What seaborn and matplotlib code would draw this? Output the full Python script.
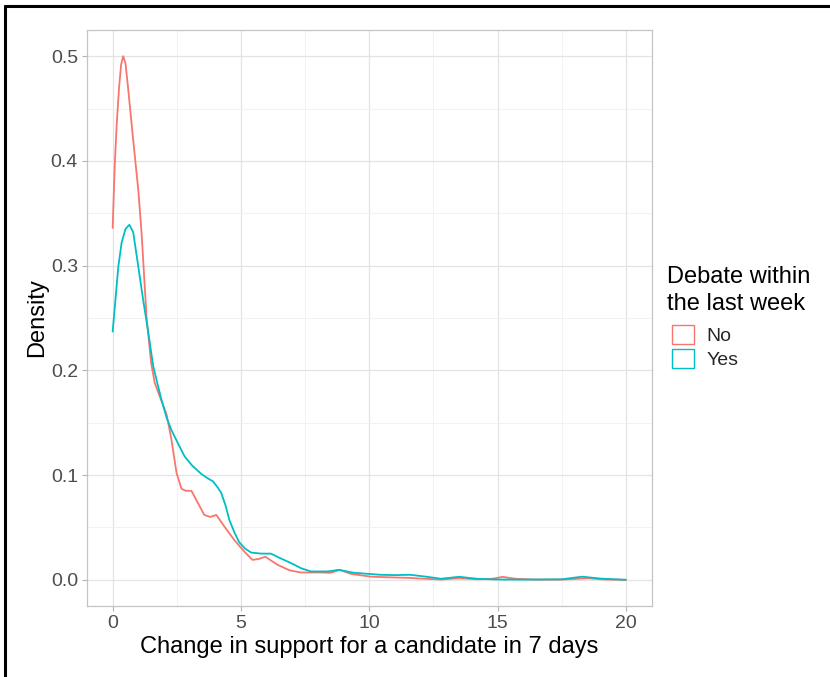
import numpy as np
import pandas as pd
import matplotlib
matplotlib.use("Agg")
import matplotlib.pyplot as plt
import seaborn as sns
from matplotlib.patches import Patch
from matplotlib.lines import Line2D
from matplotlib.ticker import MultipleLocator

# ---- data ----
no_x = [0, 0.08, 0.16, 0.25, 0.33, 0.41, 0.5, 0.6, 0.8, 1.0, 1.13, 1.32, 1.5, 1.64, 1.9,
        2.1, 2.29, 2.49, 2.68, 2.85, 3.07, 3.33, 3.57, 3.8, 4.04, 4.35, 4.74, 5.13, 5.45,
        5.7, 5.95, 6.43, 6.9, 7.34, 8.12, 8.5, 8.85, 9.28, 10.06, 11.0, 11.5, 12.0, 12.8,
        13.5, 14.2, 14.8, 15.2, 15.7, 16.5, 17.5, 18.5, 19.2, 20]
no_y = [0.336, 0.395, 0.436, 0.47, 0.492, 0.500, 0.493, 0.470, 0.420, 0.372, 0.330, 0.251,
        0.207, 0.188, 0.171, 0.158, 0.134, 0.102, 0.087, 0.085, 0.085, 0.073, 0.062, 0.060,
        0.062, 0.051, 0.038, 0.027, 0.019, 0.020, 0.022, 0.0143, 0.009, 0.007, 0.007,
        0.0067, 0.0095, 0.0057, 0.003, 0.0022, 0.0019, 0.0012, 0.0003, 0.0015, 0.0005,
        0.001, 0.0028, 0.001, 0.0002, 0.0002, 0.0015, 0.0003, 0.0]

yes_x = [0, 0.1, 0.22, 0.35, 0.5, 0.65, 0.8, 1.0, 1.19, 1.39, 1.58, 1.88, 2.1, 2.29, 2.55,
         2.8, 3.1, 3.46, 3.7, 3.91, 4.1, 4.23, 4.4, 4.55, 4.75, 4.93, 5.15, 5.4, 5.8, 6.17,
         6.5, 6.95, 7.35, 7.73, 8.38, 8.82, 9.4, 10.45, 11.0, 11.6, 12.25, 12.8, 13.5, 14.2,
         15.0, 16.0, 17.5, 18.3, 19.0, 20]
yes_y = [0.237, 0.265, 0.299, 0.322, 0.335, 0.339, 0.332, 0.299, 0.267, 0.236, 0.204, 0.174,
         0.155, 0.143, 0.130, 0.118, 0.109, 0.101, 0.097, 0.094, 0.088, 0.083, 0.071, 0.057,
         0.045, 0.036, 0.030, 0.026, 0.025, 0.025, 0.021, 0.016, 0.011, 0.008, 0.008, 0.0095,
         0.0067, 0.0048, 0.0045, 0.0048, 0.0029, 0.001, 0.0029, 0.001, 0.0003, 0.0002,
         0.0005, 0.003, 0.0012, 0.0]

groups = ["No", "Yes"]
colors = ["#F8766D", "#00BFC4"]
x_ticks = [0, 5, 10, 15, 20]
y_ticks = [0.0, 0.1, 0.2, 0.3, 0.4, 0.5]
x_label = "Change in support for a candidate in 7 days"
y_label = "Density"
legend_title = "Debate within\nthe last week"

df = pd.concat([
    pd.DataFrame({"x": no_x, "density": no_y, "debate": groups[0]}),
    pd.DataFrame({"x": yes_x, "density": yes_y, "debate": groups[1]}),
], ignore_index=True)

sns.set_theme(style="white")
plt.rcParams["font.family"] = ["Liberation Sans", "DejaVu Sans"]

fig = plt.figure(figsize=(8.30, 6.77), dpi=100)
ax = fig.add_axes([87 / 830, 1 - 606 / 677, (651.5 - 87) / 830, (606 - 30) / 677])

sns.lineplot(data=df, x="x", y="density", hue="debate", hue_order=groups,
             palette=dict(zip(groups, colors)), estimator=None, linewidth=1.3,
             legend=False, ax=ax, zorder=3)

ax.set_xlim(-1, 21)
ax.set_ylim(-0.025, 0.525)
ax.set_xticks(x_ticks)
ax.set_xticklabels([str(v) for v in x_ticks])
ax.set_yticks(y_ticks)
ax.set_yticklabels([f"{v:.1f}" for v in y_ticks])
ax.xaxis.set_minor_locator(MultipleLocator(2.5))
ax.yaxis.set_minor_locator(MultipleLocator(0.05))
ax.grid(True, which="major", color="#e3e3e3", linewidth=0.9, zorder=0)
ax.grid(True, which="minor", color="#f0f0f0", linewidth=0.6, zorder=0)
ax.set_axisbelow(True)
ax.tick_params(axis="both", which="major", length=3.5, width=0.8, color="#b3b3b3",
               labelsize=14, labelcolor="#4d4d4d", pad=3, bottom=True, left=True)
ax.tick_params(axis="both", which="minor", length=0)
for s in ax.spines.values():
    s.set_color("#c4c4c4")
    s.set_linewidth(0.9)
ax.set_xlabel(x_label, fontsize=17, color="black", labelpad=3)
ax.set_ylabel(y_label, fontsize=17, color="black", labelpad=2)

# legend: title as text, keys as a title-less legend
fig.text(667 / 830, 1 - 266 / 677, legend_title, fontsize=17, color="black",
         ha="left", va="top", linespacing=1.3)
handles = [Patch(facecolor="white", edgecolor=c, linewidth=1.0, label=g)
           for g, c in zip(groups, colors)]
leg = fig.legend(handles=handles, loc="upper left",
                 bbox_to_anchor=(672 / 830, 1 - 325 / 677), frameon=False,
                 fontsize=14, handlelength=1.12, handleheight=1.12,
                 handletextpad=0.65, labelspacing=0.22, borderpad=0, borderaxespad=0)

# figure frame lines (top and left) as in the screenshot
fig.add_artist(Line2D([4.7 / 830, 1.0], [1 - 6 / 677, 1 - 6 / 677], color="black",
                      linewidth=2.2, transform=fig.transFigure))
fig.add_artist(Line2D([4.7 / 830, 4.7 / 830], [0, 1 - 6 / 677], color="black",
                      linewidth=2.2, transform=fig.transFigure))

fig.savefig("out.png", dpi=100, facecolor="white")
